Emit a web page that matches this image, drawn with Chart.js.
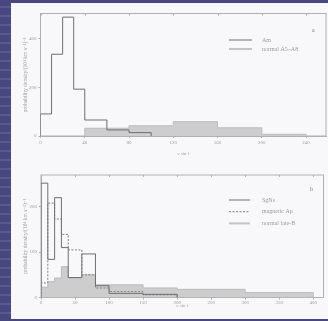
<!DOCTYPE html>
<html>
<head>
<meta charset="utf-8">
<script src="https://cdn.jsdelivr.net/npm/chart.js@4.4.1/dist/chart.umd.min.js"></script>
<style>
  html, body { margin: 0; padding: 0; }
  body {
    width: 328px; height: 321px; overflow: hidden; position: relative;
    background: repeating-linear-gradient(to bottom, #48477f 0 6px, #5a5992 6px 8px, #48477f 8px 9px);
  }
  .page { position: absolute; left: 11px; top: 3px; width: 317px; height: 316px; background: #f8f8fa; }
  canvas { position: absolute; left: 0; }
  #chartA { top: 0; }
  #chartB { top: 160px; }
</style>
</head>
<body>
<div class="page"></div>
<canvas id="chartA" width="328" height="160"></canvas>
<canvas id="chartB" width="328" height="161"></canvas>
<script>
(() => {
  /* ============================================
     DATOS - panel a
     ============================================ */
  const amEdges = [0, 10, 20, 30, 40, 60, 80, 100];
  const amValues = [91, 337, 490, 193, 66, 25, 14];
  const normalAEdges = [40, 80, 120, 160, 200, 240];
  const normalAValues = [32, 42, 59, 34, 7];
  const xTicksA = [0, 40, 80, 120, 160, 200, 240];
  const yTicksA = [0, 200, 400];

  /* ============================================
     DATOS - panel b
     ============================================ */
  const sgnsEdges = [0, 10, 20, 30, 40, 60, 80, 100, 150, 200];
  const sgnsValues = [252, 84, 220, 110, 44, 96, 26, 9, 7];
  const magApValues = [32, 208, 173, 139, 105, 50, 21, 13, 6];
  const lateBEdges = [0, 10, 20, 30, 40, 60, 80, 100, 150, 200, 300, 400];
  const lateBValues = [23, 35, 43, 68, 43, 50, 28, 28, 21, 18, 11];
  const xTicksB = [0, 50, 100, 150, 200, 250, 300, 350, 400];
  const yTicksB = [0, 100, 200];

  const LINE = '#6f6f6f';
  const GRAY = '#cdcdcd';
  const AXIS = '#b0b0b0';
  const TEXT = '#9a9a9a';
  const SERIF = '"Liberation Serif", "DejaVu Serif", serif';

  // bordes + valores -> puntos para stepped 'after'
  function toSteps(edges, values) {
    const pts = [{ x: edges[0], y: 0 }];
    values.forEach((v, i) => pts.push({ x: edges[i + 1], y: v }));
    pts.push({ x: edges[edges.length - 1], y: 0 });
    return pts;
  }

  /* ============================================
     PLUGIN: marco, ticks superiores y leyenda
     ============================================ */
  const panelDeco = {
    id: 'panelDeco',
    beforeDatasetsDraw(chart) {
      const { ctx, chartArea: a, scales: { x } } = chart;
      ctx.save();
      ctx.strokeStyle = AXIS;
      ctx.lineWidth = 1;
      ctx.strokeRect(a.left, a.top, a.right - a.left, a.bottom - a.top);
      ctx.beginPath();
      x.ticks.forEach(t => {
        const px = Math.round(x.getPixelForValue(t.value)) + 0.5;
        ctx.moveTo(px, a.top);
        ctx.lineTo(px, a.top + 2);
      });
      ctx.stroke();
      ctx.restore();
    },
    afterDraw(chart, args, opts) {
      const { ctx } = chart;
      ctx.save();
      ctx.font = `6px ${SERIF}`;
      ctx.textBaseline = 'middle';
      opts.items.forEach((it, i) => {
        const y = opts.y0 + i * opts.dy;
        ctx.beginPath();
        ctx.strokeStyle = it.color;
        ctx.lineWidth = it.width;
        ctx.setLineDash(it.dash || []);
        ctx.moveTo(opts.x0, y);
        ctx.lineTo(opts.x1, y);
        ctx.stroke();
        ctx.fillStyle = TEXT;
        ctx.fillText(it.text, opts.tx, y);
      });
      ctx.font = `6px ${SERIF}`;
      ctx.fillStyle = '#777';
      ctx.fillText(opts.tag, opts.tagX, opts.tagY);
      ctx.restore();
    }
  };

  function buildChart(id, cfg) {
    const tickFont = { size: 5, family: SERIF };
    return new Chart(document.getElementById(id), {
      type: 'line',
      data: { datasets: cfg.datasets },
      plugins: [panelDeco],
      options: {
        responsive: false,
        animation: false,
        layout: { padding: cfg.padding },
        elements: { point: { radius: 0 }, line: { tension: 0 } },
        plugins: {
          legend: { display: false },
          tooltip: { enabled: false },
          panelDeco: cfg.legend
        },
        scales: {
          x: {
            type: 'linear',
            min: 0,
            max: cfg.xMax,
            afterBuildTicks: s => { s.ticks = cfg.xTicks.map(v => ({ value: v })); },
            afterFit: s => { s.height = cfg.xHeight; },
            border: { color: AXIS },
            grid: { drawOnChartArea: false, tickLength: 2, color: AXIS },
            ticks: { color: TEXT, font: tickFont, padding: cfg.xPad, maxRotation: 0, autoSkip: false },
            title: {
              display: true, text: 'v sin i', color: TEXT,
              font: { size: 5, family: SERIF, style: 'italic' },
              padding: { top: 0, bottom: cfg.xTitlePad }
            }
          },
          y: {
            min: 0,
            max: cfg.yMax,
            afterBuildTicks: s => { s.ticks = cfg.yTicks.map(v => ({ value: v })); },
            afterFit: s => { s.width = cfg.yWidth; },
            border: { color: AXIS },
            grid: { drawOnChartArea: false, tickLength: 2, color: AXIS },
            ticks: { color: TEXT, font: tickFont, padding: 2 },
            title: {
              display: true, text: 'probability density/(10⁴ km s⁻¹)⁻¹', color: TEXT,
              font: { size: 5.5, family: SERIF },
              padding: { top: 22, bottom: 0 }
            }
          }
        }
      }
    });
  }

  /* ============================================
     PANEL a
     ============================================ */
  buildChart('chartA', {
    padding: { left: 0, right: 2, top: 13.5, bottom: 0 },
    xMax: 258, yMax: 505,
    xTicks: xTicksA, yTicks: yTicksA,
    xHeight: 24, yWidth: 40.5, xPad: 2, xTitlePad: 3,
    datasets: [
      { label: 'Am', data: toSteps(amEdges, amValues), stepped: 'after',
        borderColor: LINE, borderWidth: 1, fill: false },
      { label: 'normal A5–A8', data: toSteps(normalAEdges, normalAValues), stepped: 'after',
        borderColor: '#bcbcbc', borderWidth: 1, backgroundColor: GRAY, fill: 'origin' }
    ],
    legend: {
      x0: 229, x1: 252, tx: 262, y0: 40, dy: 9,
      tag: 'a', tagX: 312, tagY: 30,
      items: [
        { text: 'Am', color: LINE, width: 1 },
        { text: 'normal A5–A8', color: '#c4c4c4', width: 2 }
      ]
    }
  });

  /* ============================================
     PANEL b
     ============================================ */
  buildChart('chartB', {
    padding: { left: 0, right: 4.5, top: 15, bottom: 0 },
    xMax: 415, yMax: 270,
    xTicks: xTicksB, yTicks: yTicksB,
    xHeight: 23.5, yWidth: 41, xPad: 0, xTitlePad: 12,
    datasets: [
      { label: 'SgNs', data: toSteps(sgnsEdges, sgnsValues), stepped: 'after',
        borderColor: LINE, borderWidth: 1, fill: false },
      { label: 'magnetic Ap', data: toSteps(sgnsEdges, magApValues), stepped: 'after',
        borderColor: '#808080', borderWidth: 1, borderDash: [2, 1.5], fill: false },
      { label: 'normal late-B', data: toSteps(lateBEdges, lateBValues), stepped: 'after',
        borderColor: '#bcbcbc', borderWidth: 1, backgroundColor: GRAY, fill: 'origin' }
    ],
    legend: {
      x0: 229, x1: 250, tx: 262, y0: 40, dy: 11.7,
      tag: 'b', tagX: 310, tagY: 29,
      items: [
        { text: 'SgNs', color: LINE, width: 1 },
        { text: 'magnetic Ap', color: '#808080', width: 1, dash: [2, 1.5] },
        { text: 'normal late-B', color: '#c4c4c4', width: 2 }
      ]
    }
  });
})();
</script>
</body>
</html>
